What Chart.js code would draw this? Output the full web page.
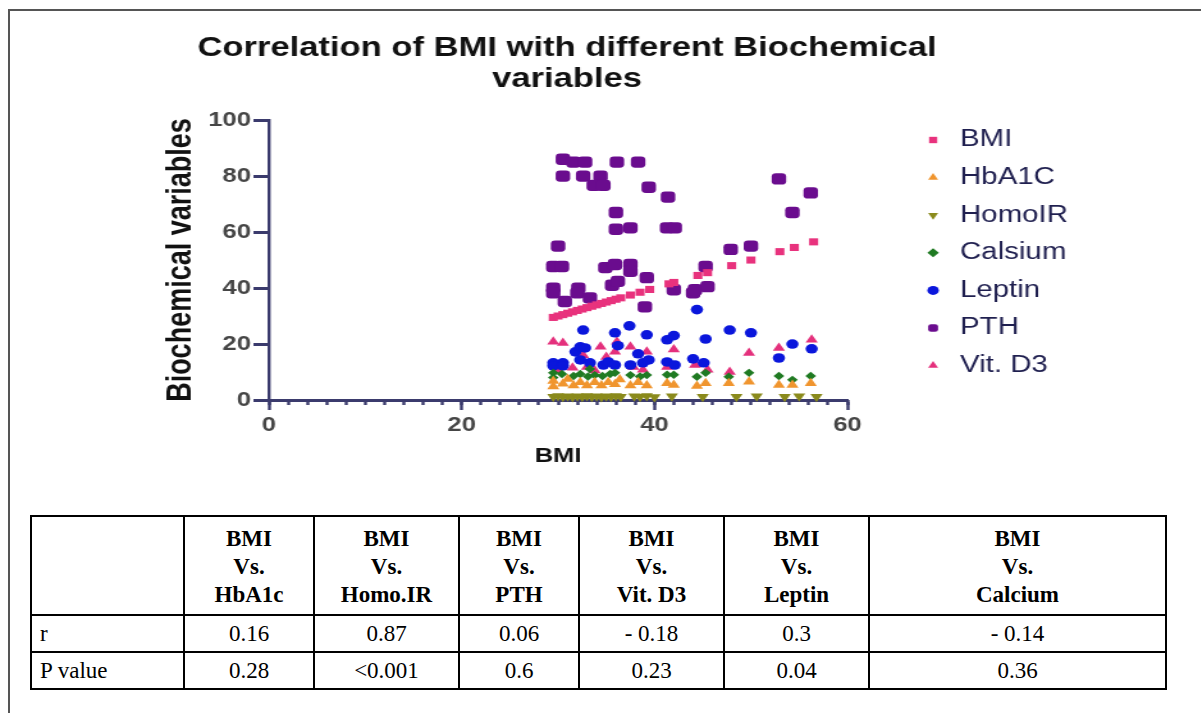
<!DOCTYPE html>
<html>
<head>
<meta charset="utf-8">
<script src="https://cdn.jsdelivr.net/npm/chart.js@4.4.1/dist/chart.umd.min.js"></script>
<style>
  body { margin: 0; background: #fff; width: 1201px; height: 713px; overflow: hidden; position: relative; }
  #frame { position: absolute; left: 8px; top: 9px; width: 1200px; height: 710px; border-left: 2px solid #555; border-top: 2px solid #555; }
  #chartWrap { position: absolute; left: 0; top: 0; width: 886px; height: 480px; transform: scaleX(1.28); transform-origin: 0 0; }
  #stats { position: absolute; left: 30px; top: 515px; width: 1135px; table-layout: fixed; border-collapse: collapse; font-family: "Liberation Serif", "Times New Roman", serif; font-size: 23px; color: #000; }
  #stats td { border: 2px solid #000; text-align: center; padding: 0; }
  #stats tr.head td { height: 95px; font-weight: bold; line-height: 28px; padding-top: 2px; }
  #stats tr.row td { height: 35px; }
  #stats td.first { text-align: left; padding-left: 8px; }
</style>
</head>
<body>
<div id="frame"></div>
<div id="chartWrap"><canvas id="corr" width="886" height="480"></canvas></div>
<table id="stats"></table>
<script>
// BMI plotted against itself
const bmiValues = [29.5, 30, 30.5, 31, 31.5, 32, 32.5, 33, 33.5, 34, 34.5, 35, 35.5, 36, 36.5,
  37.5, 38.5, 39.5, 41.5, 42, 44.5, 45.5, 48, 50, 53, 54.5, 56.5];

const hba1c = [[29.5, 6.8], [29.5, 4.8], [30.5, 5.8], [31, 7.5], [31.6, 5.2], [32.3, 6.3], [33, 5.2],
  [33.8, 6.3], [34.5, 5.2], [35.2, 6.3], [35.9, 5.6], [36.4, 7.3], [37.5, 5.2], [38.3, 6.3], [39.2, 5.2],
  [41.3, 6], [42, 5.4], [44.4, 5], [45.3, 6], [47.7, 6], [49.8, 6.5], [52.9, 5.4], [54.3, 5.4], [56.2, 6]];

const homoIR = [[29.5, 1.2], [30, 1.4], [30.5, 1.2], [31, 1.3], [31.5, 1.1], [32, 1.3], [32.5, 1.2],
  [33, 1.4], [33.5, 1.2], [34, 1.3], [34.5, 1.1], [35, 1.3], [35.5, 1.2], [36, 1.4], [36.5, 1.2],
  [37.9, 1.3], [38.5, 1.2], [39.2, 1.4], [40, 1.1], [41.8, 1.3], [45, 1.2], [48.5, 1.2], [50.6, 1.3],
  [53.5, 1.2], [55, 1.3], [56.8, 1.2]];

const calsium = [[29.5, 9.7], [29.5, 8], [30.4, 9.3], [31.6, 8.6], [32.3, 9.3], [33.1, 8.4], [33.3, 11.1],
  [33.8, 8.9], [34.6, 8.6], [35.4, 9.3], [35.9, 9.7], [37.5, 8.9], [38.5, 8.4], [39.2, 8.9],
  [41.3, 9], [42, 9], [44.4, 8.3], [45.3, 9.7], [47.7, 8.3], [49.8, 9.7], [52.9, 8.6], [54.3, 7.2], [56.2, 8.6]];

const leptin = [[32.6, 25], [35.9, 24], [37.4, 26.5], [39.2, 23.3], [41.3, 21.5], [42, 23], [44.4, 32.3],
  [45.3, 21.8], [47.8, 25], [50, 24], [54.3, 20], [56.3, 18.3], [52.9, 15],
  [31.8, 17.2], [32.3, 19], [32.8, 18.6], [36.2, 19.4], [38.3, 16.5],
  [29.5, 13.3], [30.5, 13.3], [29.5, 12.2], [30.5, 12.2], [32.3, 14.3], [33.3, 13.3], [34.7, 12.5],
  [35.2, 13.6], [35.9, 12.5], [37.5, 12.5], [38.8, 13.3], [39.4, 14.3], [41.3, 13.6], [42.1, 12.5],
  [44, 14.7], [45.1, 13.3]];

const pth = [[30.5, 86], [31.6, 85], [32.8, 85], [36.1, 85], [38.3, 85],
  [30.5, 80], [32.6, 80], [34.4, 80], [33.7, 76.7], [34.7, 76.7], [39.4, 76], [41.4, 72.5],
  [36, 67], [36, 61], [37.5, 61.5], [41.3, 61.5], [42.1, 61.5],
  [52.9, 79], [56.2, 74], [54.3, 67],
  [30, 55], [29.5, 47.7], [30.4, 47.7], [34.9, 47.3], [35.9, 48.4], [37.5, 48.4], [37.5, 46],
  [39.2, 43.7], [39, 33.3], [29.5, 40], [29.5, 38.3], [30.7, 35.2], [32.1, 40], [32, 38.3],
  [33.3, 36.5], [35.6, 41], [36.2, 42.4], [42, 39.4], [44, 38.3], [44.2, 39.4], [45.5, 40.5],
  [45.3, 47.7], [47.9, 53.8], [50, 55]];

const vitD3 = [[29.5, 20.8], [30.5, 20.4], [32.6, 16], [34.4, 19], [36.1, 20.8], [37.5, 19], [39.2, 17.2],
  [42, 18], [49.8, 16.8], [52.9, 18.6], [56.3, 21.5], [47.8, 10],
  [31.5, 11.5], [33, 11.8], [35, 15.4], [35.9, 17.2], [37.8, 11.8], [38.8, 10.8], [41.3, 11.8],
  [44.2, 12.5], [45.5, 10.8], [30, 10.5], [33.8, 10.5]];

const tableHeaders = ["HbA1c", "Homo.IR", "PTH", "Vit. D3", "Leptin", "Calcium"];
const rValues = ["0.16", "0.87", "0.06", "- 0.18", "0.3", "- 0.14"];
const pValues = ["0.28", "<0.001", "0.6", "0.23", "0.04", "0.36"];
const colWidths = [153, 130, 145, 120, 145, 145, 297];

const axisColor = "#3b3b6d";
const tickFont = { family: "'Liberation Sans', Arial, sans-serif", size: 20, weight: "bold" };

const toPoints = (pairs) => pairs.map(([x, y]) => ({ x, y }));

const series = (label, data, pointStyle, color, radius, rotation = 0) => ({
  label,
  data,
  pointStyle,
  pointRotation: rotation,
  pointRadius: radius,
  pointHoverRadius: radius,
  pointBackgroundColor: color,
  pointBorderColor: color,
  pointBorderWidth: 0,
  backgroundColor: color,
  borderColor: color,
  showLine: false,
  clip: false,
});

// legend drawn beside the plot, using each dataset's own marker
const sideLegend = {
  id: "sideLegend",
  afterDraw(chart, _args, opts) {
    const { ctx } = chart;
    ctx.save();
    ctx.font = `${opts.fontSize}px 'Liberation Sans', Arial, sans-serif`;
    ctx.textBaseline = "middle";
    chart.data.datasets.forEach((ds, i) => {
      const y = opts.top + i * opts.spacing;
      ctx.fillStyle = ds.pointBackgroundColor;
      ctx.strokeStyle = ds.pointBorderColor;
      Chart.helpers.drawPoint(ctx, {
        pointStyle: ds.pointStyle,
        rotation: ds.pointRotation,
        radius: opts.markerRadius,
        borderWidth: 0,
      }, opts.x, y);
      ctx.fillStyle = opts.color;
      ctx.fillText(ds.label, opts.x + opts.gap, y);
    });
    ctx.restore();
  },
};

new Chart(document.getElementById("corr"), {
  type: "scatter",
  data: {
    datasets: [
      series("BMI", bmiValues.map((v) => ({ x: v, y: v })), "rect", "#e8327d", 5),
      series("HbA1C", toPoints(hba1c), "triangle", "#f0952e", 5.5),
      series("HomoIR", toPoints(homoIR), "triangle", "#8a8a1c", 5.5, 180),
      series("Calsium", toPoints(calsium), "rectRot", "#1f7a22", 4.2),
      series("Leptin", toPoints(leptin), "circle", "#0a16dc", 4.8),
      series("PTH", toPoints(pth), "rectRounded", "#6a0c8e", 6.6),
      series("Vit. D3", toPoints(vitD3), "triangle", "#e4307c", 5.5),
    ],
  },
  options: {
    responsive: false,
    animation: false,
    layout: { padding: 0 },
    plugins: {
      legend: { display: false },
      tooltip: { enabled: false },
      title: {
        display: true,
        text: ["Correlation of BMI with different Biochemical", "variables"],
        color: "#111",
        font: { family: "'Liberation Sans', Arial, sans-serif", size: 27, weight: "bold", lineHeight: 1.15 },
        padding: { top: 33, bottom: 25 },
      },
      sideLegend: { x: 729, gap: 21, top: 140, spacing: 37.6, markerRadius: 4.5, fontSize: 23, color: "#1f1f4f" },
    },
    scales: {
      xMinor: {
        type: "linear",
        position: "bottom",
        weight: -1,
        min: 0,
        max: 60,
        afterFit: (scale) => { scale.height = 0; },
        ticks: { stepSize: 2, display: false },
        grid: { drawOnChartArea: false, tickLength: 5, tickWidth: 2.4, tickColor: axisColor },
        border: { display: false },
      },
      x: {
        type: "linear",
        position: "bottom",
        min: 0,
        max: 60,
        afterFit: (scale) => { scale.height = 80; },
        ticks: { stepSize: 20, color: "#454545", font: tickFont, padding: 3 },
        grid: { drawOnChartArea: false, tickLength: 10, tickWidth: 2.4, tickColor: axisColor },
        border: { display: true, color: axisColor, width: 3 },
        title: {
          display: true,
          text: "BMI",
          color: "#111",
          font: { family: "'Liberation Sans', Arial, sans-serif", size: 20, weight: "bold" },
          padding: { top: 0, bottom: 12 },
        },
      },
      y: {
        type: "linear",
        min: 0,
        max: 100,
        afterFit: (scale) => { scale.width = 210; },
        ticks: { stepSize: 20, color: "#454545", font: tickFont, padding: 2 },
        grid: { drawOnChartArea: false, tickLength: 12, tickWidth: 3, tickColor: axisColor },
        border: { display: true, color: axisColor, width: 2.4 },
        title: {
          display: true,
          text: "Biochemical variables",
          color: "#111",
          font: { family: "'Liberation Sans', Arial, sans-serif", size: 27, weight: "bold" },
          padding: { top: 125, bottom: 0 },
        },
      },
      // empty right-hand axis that reserves the room the legend sits in
      legendSpace: {
        type: "linear",
        position: "right",
        afterFit: (scale) => { scale.width = 224; },
        ticks: { display: false },
        grid: { display: false, drawTicks: false },
        border: { display: false },
      },
    },
  },
  plugins: [sideLegend],
});

// statistics table under the chart
const table = document.getElementById("stats");
table.innerHTML = "<colgroup>" + colWidths.map((w) => `<col style="width:${w}px">`).join("") + "</colgroup>";
const head = document.createElement("tr");
head.className = "head";
head.innerHTML = "<td></td>" + tableHeaders.map((h) => `<td>BMI<br>Vs.<br>${h}</td>`).join("");
table.appendChild(head);
[["r", rValues], ["P value", pValues]].forEach(([name, vals]) => {
  const tr = document.createElement("tr");
  tr.className = "row";
  tr.innerHTML = `<td class="first">${name}</td>` +
    vals.map((v) => `<td>${v.replace("<", "&lt;")}</td>`).join("");
  table.appendChild(tr);
});
</script>
</body>
</html>
